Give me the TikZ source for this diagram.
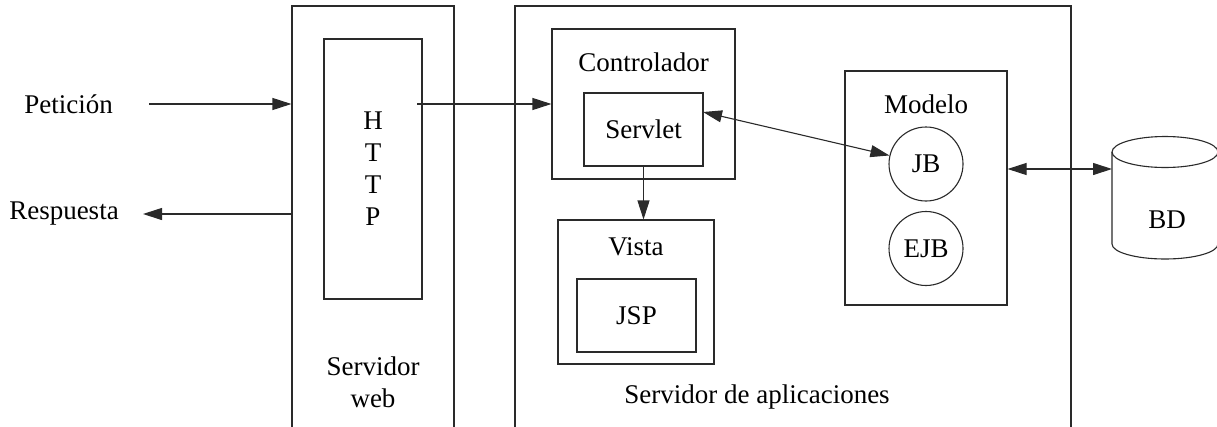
\documentclass[tikz,border=0pt]{standalone}
\usepackage{fontspec}
\setmainfont{Liberation Serif}
\usetikzlibrary{arrows.meta}
\definecolor{linec}{HTML}{2A2A2A}
\begin{document}
\begin{tikzpicture}[x=1pt,y=-1pt,
  font=\fontsize{27pt}{32pt}\selectfont,
  box/.style={draw=linec, line width=1.1pt, inner sep=0pt},
  circ/.style={draw=linec, line width=1.1pt, circle, inner sep=0pt, minimum size=74pt},
  txt/.style={inner sep=0pt, align=center},
  tip/.tip={Triangle[length=19pt,width=12pt]},
  arr/.style={draw=linec, line width=1.1pt, -tip},
  darr/.style={draw=linec, line width=1.1pt, tip-tip}]
\useasboundingbox (0,0) rectangle (1217,426);

% web server and application server (open below the page edge)
\node[box, minimum width=162pt, minimum height=430pt] (web) at (373,221) {};
\node[box, minimum width=98pt, minimum height=260pt] (http) at (373,169) {};
\node[txt] (httptxt) at (373,169) {H\\T\\T\\P};
\node[txt] (webtxt) at (373,382) {Servidor\\web};

\node[box, minimum width=556pt, minimum height=430pt] (app) at (793,221) {};
\node[txt] (apptxt) at (757,397) {Servidor de aplicaciones};

% controller
\node[box, minimum width=183pt, minimum height=150pt] (ctrl) at (643.5,104) {};
\node[txt] (ctrltxt) at (643.5,62) {Controlador};
\node[box, minimum width=119pt, minimum height=73pt] (servlet) at (643.5,129.5) {Servlet};

% view
\node[box, minimum width=156pt, minimum height=144pt] (vista) at (636,292) {};
\node[txt] (vistatxt) at (636,247) {Vista};
\node[box, minimum width=119pt, minimum height=73pt] (jsp) at (636.5,315.5) {JSP};

% model
\node[box, minimum width=162pt, minimum height=234pt] (modelo) at (926,188) {};
\node[txt] (modelotxt) at (926,104) {Modelo};
\node[circ] (jb) at (926,164) {JB};
\node[circ] (ejb) at (926,248.5) {EJB};

% database cylinder
\draw[linec, line width=1.1pt] (1112,152) -- (1112,244)
  arc[start angle=180, end angle=0, x radius=53, y radius=15] -- (1218,152);
\draw[linec, line width=1.1pt] (1165,152) ellipse [x radius=53, y radius=15.5];
\node[txt] (bd) at (1167,220) {BD};
\coordinate (bdin) at (1112,169);

% request / response
\node[txt] (pet) at (68.5,104) {Petición};
\node[txt] (resp) at (64,214) {Respuesta};
\coordinate (petend) at (149,104);
\coordinate (respend) at (143,214);
\draw[arr] (petend) -- (petend -| web.west);
\draw[arr] (respend -| web.west) -- (respend);

% connectors
\coordinate (httpout) at (417,104);
\draw[arr] (httpout) -- (httpout -| ctrl.west);
\coordinate (servout) at (703,112);
\draw[darr] (servout) -- (jb);
\draw[arr] (servlet.south) -- (servlet.south |- vista.north);
\draw[darr] (bdin -| modelo.east) -- (bdin);
\end{tikzpicture}
\end{document}
